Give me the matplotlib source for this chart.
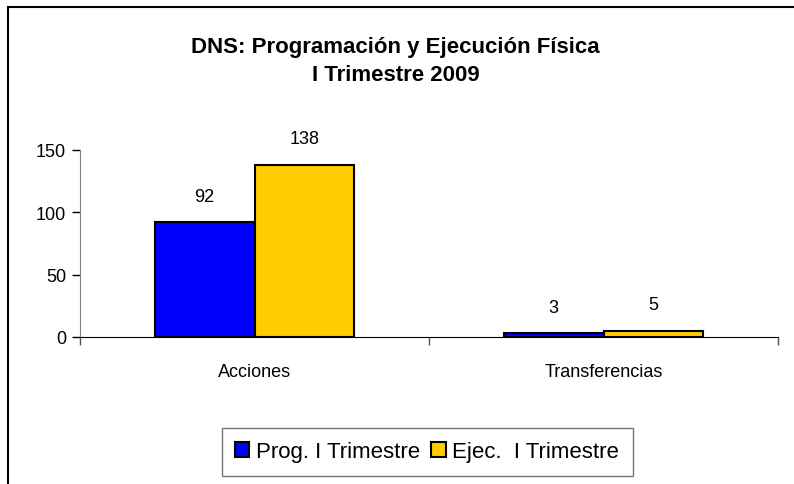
#!/usr/bin/env python
# -*- coding: utf-8 -*-
import numpy as np
import matplotlib
matplotlib.use('Agg')
import matplotlib.pyplot as plt
from matplotlib.patches import Rectangle

plt.rcParams.update({'font.family': ['Liberation Sans', 'DejaVu Sans']})

categorias = ['Acciones', 'Transferencias']
prog = [92, 3]
ejec = [138, 5]
series = ['Prog. I Trimestre', 'Ejec.  I Trimestre']
colores = ['#0000FF', '#FFCC00']
titulo = 'DNS: Programación y Ejecución Física\nI Trimestre 2009'

fig = plt.figure(figsize=(7.94, 4.85), dpi=100)
ax = fig.add_axes([0.1008, 0.3031, 0.8791, 0.3856])

x = np.arange(len(categorias))
w = 0.286
b1 = ax.bar(x - w/2, prog, w, color=colores[0], edgecolor='black', linewidth=1.5, label=series[0])
b2 = ax.bar(x + w/2, ejec, w, color=colores[1], edgecolor='black', linewidth=1.5, label=series[1])

for bars in (b1, b2):
	for r in bars:
		ax.text(r.get_x() + r.get_width()/2, r.get_height() + 14, str(int(r.get_height())),
				ha='center', va='bottom', fontsize=13)

ax.set_xlim(-0.5, 1.5)
ax.set_ylim(0, 150)
ax.set_yticks([0, 50, 100, 150])
ax.tick_params(axis='y', labelsize=13, length=6, width=1, direction='out', pad=4)
# ticks de categoria en los bordes, etiquetas al centro
ax.set_xticks([-0.5, 0.5, 1.5])
ax.set_xticklabels([])
ax.set_xticks(x, minor=True)
ax.set_xticklabels(categorias, minor=True, fontsize=13)
ax.tick_params(axis='x', which='major', length=6, width=1, color='#555555')
ax.tick_params(axis='x', which='minor', length=0, pad=19)
for s in ['top', 'right']:
	ax.spines[s].set_visible(False)
ax.spines['left'].set_color('#808080')
ax.spines['bottom'].set_color('black')

fig.text(0.498, 0.874, titulo, ha='center', va='center', fontsize=16, fontweight='bold', linespacing=1.45)

leg = fig.legend(loc='center', bbox_to_anchor=(0.538, 0.066), ncol=2, fontsize=16,
				 frameon=True, fancybox=False, edgecolor='#555555', handlelength=0.65,
				 handleheight=0.65, handletextpad=0.3, columnspacing=0.5, borderpad=0.6)
leg.get_frame().set_linewidth(1)

fig.patches.append(Rectangle((8/794, -0.1), 1.2, 1 - 8/485 + 0.1, transform=fig.transFigure,
							 fill=False, edgecolor='black', linewidth=1.5))

fig.savefig('out.png', dpi=100)
